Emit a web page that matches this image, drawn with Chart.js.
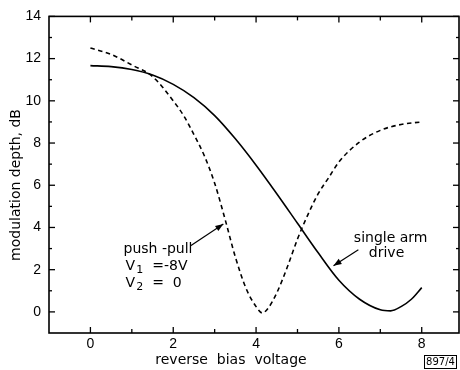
<!DOCTYPE html>
<html>
<head>
<meta charset="utf-8">
<script src="https://cdn.jsdelivr.net/npm/chart.js@4.4.1/dist/chart.umd.min.js"></script>
<style>
  html, body { margin: 0; padding: 0; background: #fff; }
</style>
</head>
<body>
<canvas id="grafico" width="460" height="370"></canvas>
<script>
// single arm drive (solid)
const singleX = [0, 0.5, 1, 1.5, 2, 2.5, 3, 3.5, 4, 4.5, 5, 5.5, 6, 6.5, 7, 7.25, 7.5, 7.75, 8];
const singleY = [11.67, 11.62, 11.48, 11.22, 10.78, 10.15, 9.3, 8.2, 6.95, 5.6, 4.2, 2.8, 1.5, 0.6, 0.1, 0.05, 0.25, 0.6, 1.15];

// push-pull, V1 = -8V, V2 = 0 (dashed)
const pushX = [0, 0.5, 1, 1.5, 2, 2.25, 2.5, 2.75, 3, 3.25, 3.5, 3.75, 4, 4.15, 4.3, 4.5, 4.75, 5, 5.25, 5.5, 5.75, 6, 6.5, 7, 7.5, 8];
const pushY = [12.5, 12.2, 11.7, 11.15, 10.0, 9.3, 8.4, 7.4, 6.1, 4.4, 2.6, 1.15, 0.25, -0.05, 0.2, 0.9, 2.1, 3.45, 4.6, 5.6, 6.35, 7.1, 8.05, 8.6, 8.88, 9.0];

const xTickLabels = [0, 2, 4, 6, 8];
const xMinorTicks = [1, 3, 5, 7];
const yTickLabels = [0, 2, 4, 6, 8, 10, 12, 14];
const yMinorTicks = [1, 3, 5, 7, 9, 11, 13];

const TXT = "'DejaVu Sans', sans-serif";

// frame, inward ticks, titles and notes
const decor = {
  id: "decor",
  afterDraw(chart) {
    const { ctx, chartArea: a, scales: { x, y } } = chart;
    ctx.save();
    ctx.strokeStyle = "#000";
    ctx.fillStyle = "#000";
    ctx.lineWidth = 1.6;
    ctx.strokeRect(a.left, a.top, a.right - a.left, a.bottom - a.top);

    ctx.lineWidth = 1.3;
    const tick = (x1, y1, x2, y2) => { ctx.beginPath(); ctx.moveTo(x1, y1); ctx.lineTo(x2, y2); ctx.stroke(); };
    xTickLabels.concat(xMinorTicks).forEach(v => {
      const px = x.getPixelForValue(v);
      const len = xTickLabels.includes(v) ? 6 : 4;
      tick(px, a.bottom, px, a.bottom - len);
      tick(px, a.top, px, a.top + len);
    });
    yTickLabels.concat(yMinorTicks).forEach(v => {
      const py = y.getPixelForValue(v);
      const len = yTickLabels.includes(v) ? 6 : 3;
      tick(a.left, py, a.left + len, py);
      tick(a.right, py, a.right - len, py);
    });

    // axis titles
    ctx.font = "14px " + TXT;
    ctx.textAlign = "center";
    ctx.textBaseline = "middle";
    ctx.fillText("reverse  bias  voltage", 231, 360);
    ctx.save();
    ctx.translate(16, 185);
    ctx.rotate(-Math.PI / 2);
    ctx.fillText("modulation depth, dB", 0, 0);
    ctx.restore();

    // curve labels
    ctx.textAlign = "left";
    const px = v => x.getPixelForValue(v), py = v => y.getPixelForValue(v);
    ctx.fillText("push -pull", px(0.8), py(2.95));
    const sub = (main, s, rest, xv, yv) => {
      let cx = px(xv);
      const cy = py(yv);
      ctx.font = "14px " + TXT;
      ctx.fillText(main, cx, cy);
      cx += ctx.measureText(main).width + 1;
      ctx.font = "11px " + TXT;
      ctx.fillText(s, cx, cy + 4);
      cx += ctx.measureText(s).width + 9;
      ctx.font = "14px " + TXT;
      ctx.fillText(rest, cx, cy);
    };
    sub("V", "1", "=-8V", 0.85, 2.15);
    sub("V", "2", "=  0", 0.85, 1.35);

    ctx.textAlign = "center";
    ctx.fillText("single arm", px(7.25), py(3.5));
    ctx.fillText("drive", px(7.15), py(2.78));

    const arrow = (x1, y1, x2, y2) => {
      const ax = px(x1), ay = py(y1), bx = px(x2), by = py(y2);
      const ang = Math.atan2(by - ay, bx - ax);
      ctx.lineWidth = 1.2;
      tick(ax, ay, bx, by);
      ctx.beginPath();
      ctx.moveTo(bx, by);
      ctx.lineTo(bx - 8 * Math.cos(ang) + 3 * Math.sin(ang), by - 8 * Math.sin(ang) - 3 * Math.cos(ang));
      ctx.lineTo(bx - 8 * Math.cos(ang) - 3 * Math.sin(ang), by - 8 * Math.sin(ang) + 3 * Math.cos(ang));
      ctx.closePath();
      ctx.fill();
    };
    arrow(2.42, 3.13, 3.21, 4.16);
    arrow(6.47, 2.94, 5.87, 2.19);

    // figure number box
    ctx.lineWidth = 1;
    ctx.strokeRect(424.5, 355.5, 32, 13);
    ctx.font = "10px " + TXT;
    ctx.fillText("897/4", 440.5, 362.5);
    ctx.restore();
  }
};

new Chart(document.getElementById("grafico"), {
  type: "line",
  data: {
    datasets: [{
      label: "single arm drive",
      data: singleX.map((v, i) => ({ x: v, y: singleY[i] })),
      borderColor: "#000",
      borderWidth: 1.6,
      pointRadius: 0,
      cubicInterpolationMode: "monotone"
    }, {
      label: "push-pull",
      data: pushX.map((v, i) => ({ x: v, y: pushY[i] })),
      borderColor: "#000",
      borderWidth: 1.6,
      borderDash: [4.5, 3.5],
      pointRadius: 0,
      cubicInterpolationMode: "monotone"
    }]
  },
  options: {
    responsive: false,
    animation: false,
    devicePixelRatio: 1,
    layout: { padding: { top: 16, right: 1, left: 0, bottom: 0 } },
    plugins: { legend: { display: false }, tooltip: { enabled: false } },
    scales: {
      x: {
        type: "linear",
        min: -1,
        max: 8.9,
        grid: { display: false, drawTicks: false },
        border: { display: false },
        ticks: { color: "#000", padding: 3, font: { family: "'Liberation Sans', Arial, sans-serif", size: 14 } },
        afterBuildTicks: s => { s.ticks = xTickLabels.map(v => ({ value: v })); },
        afterFit: s => { s.height = 37; }
      },
      y: {
        min: -1,
        max: 14,
        grid: { display: false, drawTicks: false },
        border: { display: false },
        ticks: { color: "#000", padding: 8, font: { family: "'Liberation Sans', Arial, sans-serif", size: 14 } },
        afterBuildTicks: s => { s.ticks = yTickLabels.map(v => ({ value: v })); },
        afterFit: s => { s.width = 49; }
      }
    }
  },
  plugins: [decor]
});
</script>
</body>
</html>
